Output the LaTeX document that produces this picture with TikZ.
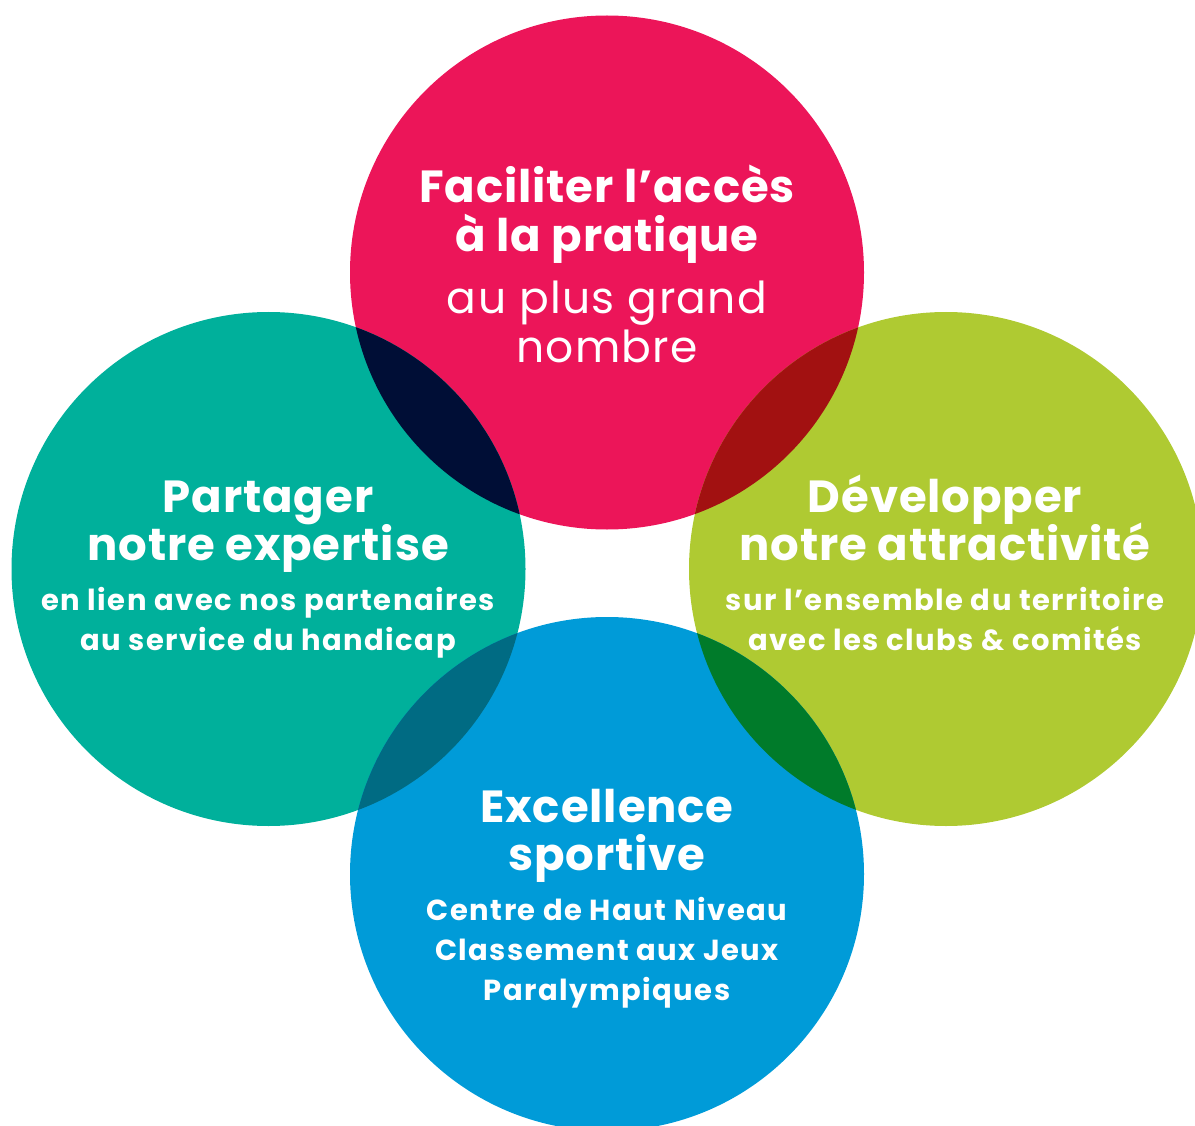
\documentclass[tikz,border=0pt]{standalone}
\usepackage{fontspec}
\setmainfont{Poppins}
\definecolor{cpink}{HTML}{EC1559}
\definecolor{cteal}{HTML}{00B09B}
\definecolor{cgreen}{HTML}{AFCA32}
\definecolor{cblue}{HTML}{009BD8}
\definecolor{ovnavy}{HTML}{000E36}
\definecolor{ovred}{HTML}{A21111}
\definecolor{ovteal}{HTML}{006B83}
\definecolor{ovgreen}{HTML}{007B2A}
\tikzset{
  big/.style={text=white, anchor=base, font=\fontsize{45}{50}\selectfont\bfseries\addfontfeature{LetterSpace=2}, inner sep=0pt},
  med/.style={text=white, anchor=base, font=\fontsize{44}{48}\selectfont\addfontfeature{LetterSpace=3}, inner sep=0pt},
  small/.style={text=white, anchor=base, font=\fontsize{29}{40}\selectfont\bfseries\addfontfeature{LetterSpace=5}, inner sep=0pt}
}
\newcommand{\rad}{257}
\begin{document}
\begin{tikzpicture}[x=1pt,y=-1pt]
\useasboundingbox (0,0) rectangle (1195,1126);
\coordinate (ct) at (607,272.5);
\coordinate (cl) at (268.5,569);
\coordinate (cr) at (946,569);
\coordinate (cb) at (607,874);
\begin{scope}
\clip (0,0) rectangle (1195,1126);
\fill[cpink] (ct) circle (\rad);
\fill[cteal] (cl) circle (\rad);
\fill[cgreen] (cr) circle (\rad);
\fill[cblue] (cb) circle (\rad);
\begin{scope}\clip (ct) circle (\rad); \fill[ovnavy] (cl) circle (\rad); \end{scope}
\begin{scope}\clip (ct) circle (\rad); \fill[ovred] (cr) circle (\rad); \end{scope}
\begin{scope}\clip (cb) circle (\rad); \fill[ovteal] (cl) circle (\rad); \end{scope}
\begin{scope}\clip (cb) circle (\rad); \fill[ovgreen] (cr) circle (\rad); \end{scope}
\end{scope}
% top
\node[big] (t1) at (607,203) {Faciliter l’accès};
\node[big] (t2) at (607,252) {à la pratique};
\node[med] (t3) at (607,313) {au plus grand};
\node[med] (t4) at (607,362) {nombre};
% left
\node[big] (l1) at (268,512) {Partager};
\node[big] (l2) at (268,560) {notre expertise};
\node[small] (l3) at (268,610) {en lien avec nos partenaires};
\node[small] (l4) at (268,650) {au service du handicap};
% right
\node[big] (r1) at (945,512) {Développer};
\node[big] (r2) at (945,560) {notre attractivité};
\node[small] (r3) at (945,610) {sur l’ensemble du territoire};
\node[small] (r4) at (945,650) {avec les clubs \& comités};
% bottom
\node[big] (b1) at (607,822) {Excellence};
\node[big] (b2) at (607,870) {sportive};
\node[small] (b3) at (607,920) {Centre de Haut Niveau};
\node[small] (b4) at (607,960) {Classement aux Jeux};
\node[small] (b5) at (607,1000) {Paralympiques};
\end{tikzpicture}
\end{document}
